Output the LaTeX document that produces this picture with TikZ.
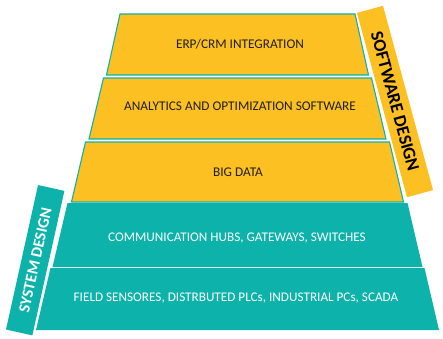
\documentclass[tikz,border=0pt]{standalone}
\usepackage{fontspec}
\setmainfont{Carlito}
\definecolor{ylw}{HTML}{FDC022}
\definecolor{tl}{HTML}{0DB3AB}
\begin{document}
\begin{tikzpicture}[x=1pt,y=1pt,
  ylayer/.style={fill=ylw, draw=tl, line width=1.1pt, line join=miter},
  tlayer/.style={fill=tl},
  ytext/.style={text=black!88, font=\fontsize{13.3}{15}\selectfont, inner sep=0},
  ttext/.style={text=white, font=\fontsize{13.2}{15}\selectfont, inner sep=0},
  banner/.style={inner sep=0, minimum height=27}]
\useasboundingbox (0,0) rectangle (443,338);
% yellow layers
\path[ylayer] (120,324) -- (355,324) -- (368.5,263) -- (106.5,263) -- cycle;
\path[ylayer] (103.5,260) -- (371.5,260) -- (386,199) -- (89,199) -- cycle;
\path[ylayer] (85.5,196) -- (389.5,196) -- (403.5,136) -- (71.5,136) -- cycle;
% teal layers
\path[tlayer] (67.5,135) -- (407.5,135) -- (422.5,71) -- (52.5,71) -- cycle;
\path[tlayer] (50.5,70) -- (424.5,70) -- (439,8) -- (36,8) -- cycle;
% texts
\node[ytext] (erp) at (240,293.5) {ERP/CRM INTEGRATION};
\node[ytext] (ana) at (240,231.5) {ANALYTICS AND OPTIMIZATION SOFTWARE};
\node[ytext] (big) at (238,166) {BIG DATA};
\node[ttext] (com) at (237,100) {COMMUNICATION HUBS, GATEWAYS, SWITCHES};
\node[ttext] (fld) at (236,39.5) {FIELD SENSORES, DISTRBUTED PLCs, INDUSTRIAL PCs, SCADA};
% banners
\node[banner, fill=ylw, text=black, rotate=-74.8, minimum width=191,
      font=\bfseries\fontsize{18}{20}\selectfont] (sw) at (395,236.5) {SOFTWARE DESIGN};
\node[banner, fill=tl, text=white, rotate=77.5, minimum width=148,
      font=\bfseries\fontsize{16}{18}\selectfont] (sd) at (35.2,77.8) {SYSTEM DESIGN};
\end{tikzpicture}
\end{document}
